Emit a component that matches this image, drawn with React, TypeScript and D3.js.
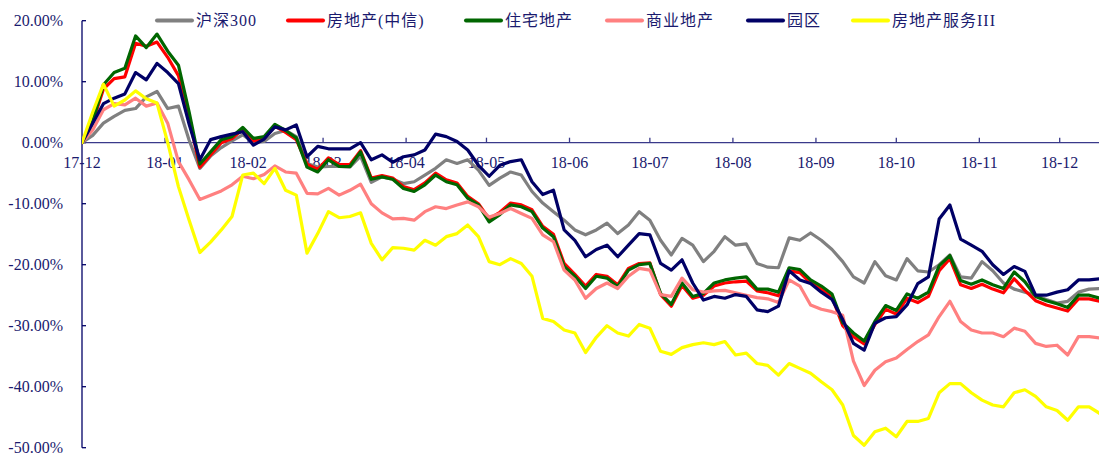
import React from "react";
import * as d3 from "d3";

// 96 samples, one every 4 calendar days starting 2017-12-01
const START = new Date(Date.UTC(2017, 11, 1));
const STEP_DAYS = 4;

const seriesNames = ["沪深300", "房地产(中信)", "住宅地产", "商业地产", "园区", "房地产服务III"];
const seriesColors = ["#808080", "#FF0000", "#006600", "#FF8080", "#000066", "#FFFF00"];

const hs300 = [0, 1.2, 3.2, 4.3, 5.3, 5.6, 7.5, 8.4, 5.6, 6, 0.4, -4.2, -2.2, -0.8, 0.3, 1.3, 0, 0.2, 1.5, 2, 1, -3.4, -4, -3.9, -3.9, -4, -2.2, -6.5, -5.6, -6,
  -6.7, -6.4, -5.3, -4.2, -2.8, -3.4, -2.8, -4.5, -7, -5.8, -4.8, -5.3, -8, -9.9, -11.3, -12.7, -14.3, -15.1, -14.3, -13.2, -14.9, -13.5, -11.3, -12.7, -16, -18.4, -15.7, -16.8, -19.5, -17.8,
  -15.4, -16.8, -16.6, -19.8, -20.4, -20.5, -15.6, -16, -14.8, -16, -17.5, -19.5, -22, -23, -19.5, -21.8, -22.5, -19, -21, -21.2, -20, -18.4, -22, -22.2, -19.5, -21, -23, -24, -24.5, -25,
  -25.7, -26.3, -26, -24.5, -24, -23.9];

const realEstate = [0, 3.3, 8.8, 10.5, 10.8, 16.3, 15.8, 16.5, 14, 11, 4, -4, -2, 0, 0.7, 2.2, 0.3, 0.7, 2.7, 1.7, 0.5, -3.5, -4.4, -2.5, -3.6, -3.6, -1.3, -5.8, -5.4, -5.8,
  -7.2, -7.7, -6.6, -5, -6.1, -6.6, -8.8, -10, -12.5, -11.4, -9.9, -10.2, -11, -13.7, -15, -19.8, -21.6, -23.5, -21.6, -21.9, -23.3, -20.6, -19.8, -19.7, -24.9, -26.8, -23.4, -25.5, -25, -23.5,
  -23, -22.8, -22.7, -24.3, -24.6, -25.1, -21, -21.3, -23, -24, -25.3, -30, -31.8, -33, -29.8, -27.3, -28.1, -25.5, -26.2, -25.2, -21, -19, -23.3, -23.9, -23.2, -24, -24.6, -22.3, -24.2, -25.9,
  -26.6, -27.1, -27.6, -25.6, -25.6, -26];

const residential = [0, 3.5, 9.5, 11.5, 12.2, 17.5, 15.6, 17.8, 15, 12.7, 5, -3.5, -1.5, 0.5, 1, 2.5, 0.7, 1, 3, 2, 0.8, -4, -4.8, -2.8, -3.9, -3.9, -1.5, -6, -5.6, -6,
  -7.5, -8, -6.9, -5.3, -6.4, -6.9, -9.1, -10.2, -13, -11.8, -10.2, -10.5, -11.3, -14, -15.4, -20.3, -21.9, -23.9, -21.9, -22.2, -23.6, -20.9, -20, -19.8, -24.7, -26.5, -23, -25.2, -24.7, -23,
  -22.5, -22.2, -22, -24, -24, -24.5, -20.5, -20.8, -22.5, -23.5, -24.8, -29.5, -31.2, -32.5, -29.3, -26.7, -27.5, -24.8, -25.5, -24.5, -20.2, -18.5, -22.6, -23.2, -22.5, -23.3, -23.9, -21.2, -22.8, -25.2,
  -25.9, -26.4, -27, -25, -25, -25.5];

const commercial = [0, 2.1, 5.4, 6.4, 6.2, 7.3, 6, 6.5, 3.2, -3.1, -6.1, -9.3, -8.6, -7.9, -6.9, -5.5, -5.9, -5.2, -3.8, -4.8, -5, -8.3, -8.4, -7.5, -8.6, -7.8, -6.8, -10, -11.5, -12.5,
  -12.4, -12.7, -11.3, -10.5, -10.8, -10.2, -9.7, -10.5, -12.2, -11.6, -10.8, -11.6, -12.4, -15.1, -16.2, -20.9, -22.5, -25.5, -23.9, -23, -23.9, -21.9, -20.6, -20.9, -24.9, -25.2, -22.2, -24.1, -24.5, -24.3,
  -24.2, -24.6, -25, -25.4, -25.6, -26.2, -22.5, -23.5, -26.6, -27.3, -27.7, -28.3, -35.8, -39.8, -37.3, -35.9, -35.3, -33.9, -32.6, -31.5, -28.5, -26, -29.3, -30.7, -31.2, -31.2, -31.8, -30.4, -30.9, -32.9,
  -33.4, -33.2, -34.8, -31.8, -31.8, -32];

const parks = [0, 3.2, 6.4, 7.3, 8, 11.5, 10.3, 13, 11.5, 9.7, 3, -2.8, 0.5, 1, 1.4, 1.8, -0.4, 0.6, 2.6, 2.1, 2.9, -2.3, -0.6, -1, -1, -1, 0, -2.8, -2, -3.2,
  -2.3, -2, -1.2, 1.4, 1, 0.2, -1.2, -3.7, -5.5, -3.7, -3.1, -2.8, -6.4, -8.5, -7.8, -14.3, -16, -18.7, -17.5, -16.8, -18.7, -16.8, -14.9, -15.1, -19.8, -20.9, -19.2, -23, -25.8, -25.2,
  -25.5, -24.9, -25.2, -27.4, -27.7, -26.8, -21, -22.5, -23.1, -24.5, -25.7, -29, -32.9, -34, -29.6, -28.7, -28.5, -26.6, -23.1, -22, -12.5, -10.2, -15.8, -16.8, -17.8, -20, -21.6, -20.3, -21.1, -25,
  -25, -24.5, -24.1, -22.5, -22.5, -22.3];

const services = [0, 5, 9.6, 6, 7, 8.5, 7.2, 6.5, 0, -7.2, -12.7, -18, -16.3, -14.3, -12.1, -5.3, -5, -6.7, -4.2, -7.8, -8.6, -18.1, -14.9, -11.3, -12.3, -12.1, -11.5, -16.5, -19.2, -17.2,
  -17.3, -17.6, -16, -16.8, -15.4, -14.9, -13.5, -15.4, -19.5, -20, -19, -19.8, -21.9, -28.8, -29.3, -30.7, -31.2, -34.4, -31.9, -30, -31.2, -31.7, -29.8, -30.4, -34.2, -34.7, -33.6, -33.1, -32.8, -33.1,
  -32.6, -34.8, -34.5, -36.2, -36.5, -38.1, -36.2, -37, -37.8, -39.2, -40.5, -43, -48, -49.6, -47.4, -46.8, -48.2, -45.7, -45.7, -45.2, -41, -39.5, -39.5, -41, -42.2, -43, -43.3, -41, -40.5, -41.6,
  -43.3, -43.9, -45.5, -43.3, -43.3, -44.4];

const allSeries = [hs300, realEstate, residential, commercial, parks, services];

const yTicks = [20, 10, 0, -10, -20, -30, -40, -50];

const W = 1099;
const H = 455;
const TEXT = "#1a1a6e";
const FONT = "'Liberation Serif', 'Times New Roman', 'Noto Sans CJK SC', serif";

export default function App() {
  const x = d3
    .scaleUtc()
    .domain([START, new Date(Date.UTC(2018, 11, 1))])
    .range([82, 1059.7]);
  const y = d3.scaleLinear().domain([-50, 20]).range([447.7, 20.7]);

  const dates = hs300.map((_, i) => d3.utcDay.offset(START, i * STEP_DAYS));
  const monthTicks = d3.utcMonth.range(START, new Date(Date.UTC(2018, 11, 2)));
  const fmt = d3.utcFormat("%y-%m");

  const line = d3
    .line<number>()
    .x((_, i) => x(dates[i]))
    .y((v) => y(v));

  const legendX = [157, 288, 466, 607, 748, 853];

  return (
    <svg
      width={W}
      height={H}
      style={{ position: "absolute", left: 0, top: 0, background: "#fff" }}
      fontFamily={FONT}
    >
      <defs>
        <clipPath id="plot">
          <rect x={82} y={0} width={W - 82} height={H} />
        </clipPath>
      </defs>
      {/* y axis */}
      <line x1={82} x2={82} y1={y(20)} y2={y(-50)} stroke="#000066" strokeWidth={1.3} />
      {yTicks.map((t) => (
        <g key={t}>
          <line x1={82} x2={86} y1={y(t)} y2={y(t)} stroke="#000066" strokeWidth={1.3} />
          <text
            x={63}
            y={y(t)}
            textAnchor="end"
            dominantBaseline="central"
            fontSize={16}
            fill={TEXT}
          >
            {t.toFixed(2) + "%"}
          </text>
        </g>
      ))}
      {/* x axis at 0 */}
      <line x1={82} x2={W} y1={y(0)} y2={y(0)} stroke="#3a3a8a" strokeWidth={1.3} />
      {monthTicks.map((d) => (
        <g key={d.toISOString()}>
          <line x1={x(d)} x2={x(d)} y1={y(0)} y2={y(0) - 5} stroke="#3a3a8a" strokeWidth={1.3} />
          <text
            x={x(d)}
            y={y(0) + 20}
            textAnchor="middle"
            dominantBaseline="central"
            fontSize={16}
            fill={TEXT}
          >
            {fmt(d)}
          </text>
        </g>
      ))}
      {/* series */}
      <g clipPath="url(#plot)">
        {allSeries.map((s, k) => (
          <path
            key={seriesNames[k]}
            d={line(s) || ""}
            fill="none"
            stroke={seriesColors[k]}
            strokeWidth={3.2}
            strokeLinejoin="round"
            strokeLinecap="round"
          />
        ))}
      </g>
      {/* legend */}
      {seriesNames.map((n, k) => (
        <g key={n}>
          <line
            x1={legendX[k]}
            x2={legendX[k] + 35}
            y1={20.5}
            y2={20.5}
            stroke={seriesColors[k]}
            strokeWidth={4}
            strokeLinecap="round"
          />
          <text
            x={legendX[k] + 39}
            y={20.5}
            dominantBaseline="central"
            fontSize={16}
            fill={TEXT}
            letterSpacing={1}
          >
            {n}
          </text>
        </g>
      ))}
    </svg>
  );
}
